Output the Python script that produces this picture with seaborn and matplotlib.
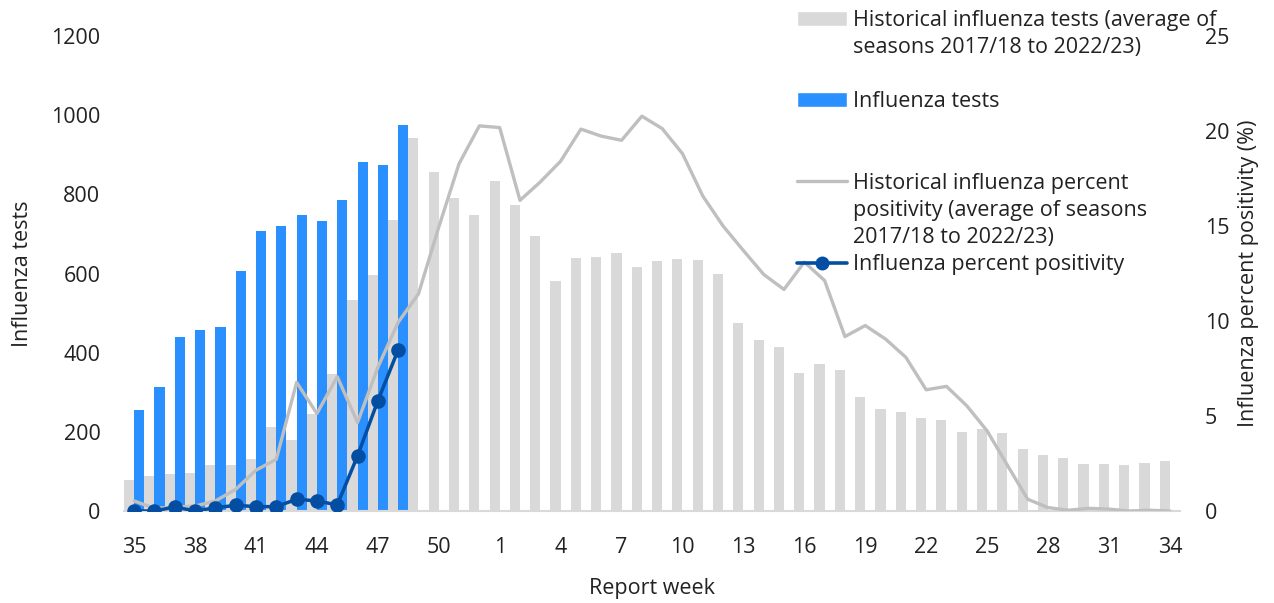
import numpy as np
import pandas as pd
import matplotlib
matplotlib.use("Agg")
import matplotlib.pyplot as plt
import seaborn as sns
from matplotlib.patches import Patch
from matplotlib.lines import Line2D

# data
weeks = [str(w) for w in list(range(35, 53)) + list(range(1, 35))]

hist_tests = [79, 89, 94, 96, 117, 115, 131, 213, 180, 245, 346, 532, 595, 735, 943, 856, 790, 748,
              834, 772, 695, 582, 638, 641, 651, 617, 631, 637, 633, 600, 476, 432, 415, 348, 372, 356,
              287, 258, 251, 236, 230, 200, 208, 197, 156, 142, 135, 118, 119, 116, 122, 127]
cur_tests = [256, 314, 440, 457, 464, 607, 707, 721, 749, 733, 785, 881, 873, 975]

hist_pos = [0.53, 0.14, 0.2, 0.26, 0.53, 1.14, 2.15, 2.72, 6.77, 5.13, 7.07, 4.66, 7.56, 9.93, 11.43,
            14.94, 18.28, 20.27, 20.18, 16.35, 17.32, 18.41, 20.1, 19.73, 19.51, 20.78, 20.13, 18.81,
            16.58, 15.0, 13.71, 12.45, 11.66, 13.1, 12.13, 9.18, 9.76, 9.05, 8.09, 6.38, 6.56, 5.54,
            4.22, 2.41, 0.62, 0.18, 0.04, 0.14, 0.1, 0.0, 0.04, 0.0]
cur_pos = [0, 0, 0.21, 0, 0.17, 0.3, 0.23, 0.23, 0.62, 0.53, 0.32, 2.9, 5.8, 8.48]

# colors
hist_bar_color = "#D9D9D9"
cur_bar_color = "#2B90FF"
hist_line_color = "#BFBFBF"
cur_line_color = "#034EA2"
text_color = "#222222"

sns.set_style("white")
plt.rcParams['font.family'] = ['Open Sans', 'DejaVu Sans']
plt.rcParams['text.color'] = text_color
plt.rcParams['axes.labelcolor'] = text_color
plt.rcParams['xtick.color'] = text_color
plt.rcParams['ytick.color'] = text_color
fs = 15.5

n = len(weeks)
cur_full = cur_tests + [np.nan] * (n - len(cur_tests))
bar_df = pd.DataFrame({
    "week": weeks * 2,
    "series": ["hist"] * n + ["cur"] * n,
    "tests": hist_tests + cur_full,
})

fig = plt.figure(figsize=(12.74, 6.03), dpi=100)
ax1 = fig.add_axes([124 / 1274, 1 - 511 / 603, (1180 - 124) / 1274, (511 - 36) / 603])

sns.barplot(data=bar_df, x="week", y="tests", hue="series", order=weeks,
            hue_order=["hist", "cur"], palette=[hist_bar_color, cur_bar_color], saturation=1,
            width=1.0, dodge=True, ax=ax1, legend=False, errorbar=None, linewidth=0)

ax1.set_ylim(0, 1200)
ax1.set_yticks(np.arange(0, 1201, 200))
ax1.set_xlim(-0.5, n - 0.5)
ax1.set_xticks(np.arange(0, n, 3))
ax1.set_xticklabels(weeks[::3])
ax1.tick_params(axis='x', labelsize=fs, length=0, pad=19)
ax1.tick_params(axis='y', labelsize=fs, length=0, pad=17)
ax1.set_xlabel("Report week", fontsize=fs, labelpad=14)
ax1.set_ylabel("Influenza tests", fontsize=fs, labelpad=13)
for s in ["top", "right", "left"]:
    ax1.spines[s].set_visible(False)
ax1.spines["bottom"].set_color("#D9D9D9")
ax1.spines["bottom"].set_linewidth(1.5)

ax2 = ax1.twinx()
x_pos = np.arange(n)
sns.lineplot(x=x_pos, y=hist_pos, ax=ax2, color=hist_line_color, linewidth=2.4)
sns.lineplot(x=x_pos[:len(cur_pos)], y=cur_pos, ax=ax2, color=cur_line_color, linewidth=2.5,
             marker="o", markersize=10.5, markeredgewidth=0)
ax2.set_ylim(0, 25)
ax2.set_yticks(np.arange(0, 26, 5))
ax2.tick_params(axis='y', labelsize=fs, length=0, pad=18)
ax2.set_ylabel("Influenza percent positivity (%)", fontsize=fs, labelpad=6)
for s in ax2.spines.values():
    s.set_visible(False)
ax1.set_xlim(-0.5, n - 0.5)

# legend, one row per text line so the keys sit on the first line
blank = Patch(facecolor="none", edgecolor="none")
handles = [Patch(facecolor=hist_bar_color), blank, blank,
           Patch(facecolor=cur_bar_color), blank, blank,
           Line2D([], [], color=hist_line_color, linewidth=2.4), blank, blank,
           Line2D([], [], color=cur_line_color, linewidth=2.6, marker="o", markersize=9)]
labels = ["Historical influenza tests (average of", "seasons 2017/18 to 2022/23)", " ",
          "Influenza tests", " ", " ",
          "Historical influenza percent", "positivity (average of seasons", "2017/18 to 2022/23)",
          "Influenza percent positivity"]
fig.legend(handles, labels, loc="upper left", bbox_to_anchor=(797 / 1274, 1 - 10 / 603),
           frameon=False, fontsize=fs, handlelength=2.3, handletextpad=0.3,
           labelspacing=0.285, borderpad=0, borderaxespad=0, numpoints=1)

fig.savefig("out.png", dpi=100)
